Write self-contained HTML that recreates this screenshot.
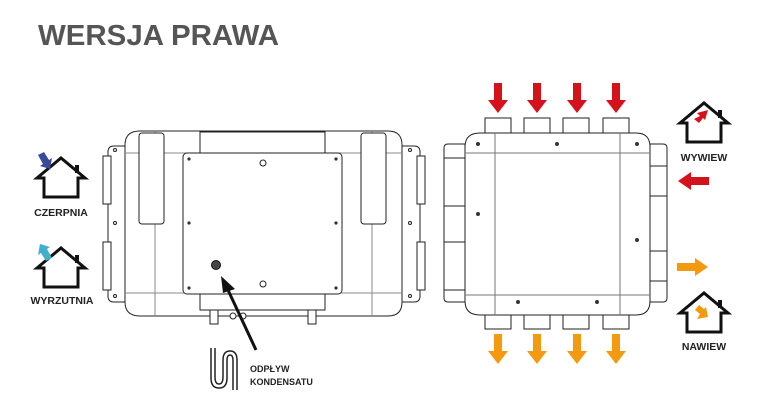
<!DOCTYPE html>
<html><head><meta charset="utf-8"><style>
html,body{margin:0;padding:0;background:#fff;}
svg{display:block;font-family:"Liberation Sans",sans-serif;}
</style></head><body>
<svg width="766" height="411" viewBox="0 0 766 411" xmlns="http://www.w3.org/2000/svg">
<defs>
<g id="house"><path d="M2,21 L26,1 L50,21 L43,21 L43,40 L9,40 L9,21 Z" fill="none" stroke="#111" stroke-width="3" stroke-linejoin="miter"/><rect x="40" y="8" width="4" height="8" fill="#111"/></g>
<g id="adown"><rect x="-4" y="0" width="8" height="18" /><path d="M-10,17 L10,17 L0,30 Z"/></g>
</defs>
<text x="38" y="45" font-size="29" font-weight="bold" fill="#555" textLength="241" lengthAdjust="spacingAndGlyphs">WERSJA PRAWA</text>

<!-- LEFT UNIT -->
<g fill="#fff" stroke="#222" stroke-width="1">
<path d="M108,152 q0,-6 6,-6 h11 v156 h-11 q-6,0 -6,-6 Z"/>
<path d="M420,152 q0,-6 -6,-6 h-12 v156 h12 q6,0 6,-6 Z"/>
<rect x="103" y="156" width="8" height="48"/><rect x="103" y="242" width="8" height="48"/>
<rect x="417" y="156" width="8" height="48"/><rect x="417" y="242" width="8" height="48"/>
<path d="M140,131 H388 Q402,131 402,145 V302 Q402,316 388,316 H140 Q125,316 125,302 V145 Q125,131 140,131 Z"/>
<line x1="125" y1="153" x2="402" y2="153" stroke="#888"/>
<line x1="125" y1="293" x2="402" y2="293" stroke="#888"/>
<line x1="155" y1="131" x2="155" y2="316" stroke="#888"/>
<line x1="372" y1="131" x2="372" y2="316" stroke="#888"/>
<rect x="200" y="132" width="125" height="21"/>
<rect x="200" y="293" width="125" height="17"/>
<rect x="139" y="133" width="25" height="91" rx="3"/>
<rect x="361" y="133" width="25" height="91" rx="3"/>
<rect x="183" y="153" width="159" height="141" rx="4"/>
<rect x="210" y="310" width="8" height="14"/><rect x="308" y="310" width="8" height="14"/>
<circle cx="233" cy="316" r="3"/><circle cx="243" cy="316" r="3"/>
<circle cx="263" cy="163" r="3"/><circle cx="263" cy="284" r="3"/>
<circle cx="115" cy="150" r="1.5"/><circle cx="115" cy="223" r="1.5"/><circle cx="115" cy="296" r="1.5"/>
<circle cx="410" cy="150" r="1.5"/><circle cx="410" cy="223" r="1.5"/><circle cx="410" cy="296" r="1.5"/>
</g>
<g fill="#333"><circle cx="189" cy="159" r="1.6"/><circle cx="336" cy="159" r="1.6"/><circle cx="189" cy="223" r="1.6"/><circle cx="336" cy="223" r="1.6"/><circle cx="189" cy="288" r="1.6"/><circle cx="336" cy="288" r="1.6"/></g>
<circle cx="216" cy="265" r="4.5" fill="#444" stroke="#111"/>
<line x1="256" y1="350" x2="228" y2="290" stroke="#111" stroke-width="3"/>
<path d="M221,276 L235,289 L223,293 Z" fill="#111"/>

<!-- houses left -->
<use href="#house" x="35" y="157"/>
<path d="M38,155 L44,152 L49,160 L52,158 L50,169 L40,166 L43,164 Z" fill="#3a4a9a"/>
<text x="61" y="216" font-size="10.5" font-weight="bold" fill="#222" text-anchor="middle">CZERPNIA</text>
<use href="#house" x="35" y="247"/>
<path d="M52,258 L46,261 L41,253 L38,255 L40,244 L50,247 L47,249 Z" fill="#3fb0cc"/>
<text x="62" y="304" font-size="10.5" font-weight="bold" fill="#222" text-anchor="middle">WYRZUTNIA</text>

<!-- drain icon -->
<g fill="none" stroke="#222" stroke-width="1.5">
<path d="M211,348 V378 Q211,388 219,388 Q227,388 227,378 V360 Q227,355 230,355 Q233,355 233,360 V390"/>
<path d="M215,348 V377 Q215,384 219,384 Q223,384 223,377 V360 Q223,351 230,351 Q237,351 237,360 V390"/>
</g>
<text x="250" y="372" font-size="9" font-weight="bold" fill="#222">ODPŁYW</text>
<text x="250" y="385" font-size="9" font-weight="bold" fill="#222">KONDENSATU</text>

<!-- RIGHT UNIT -->
<g fill="#fff" stroke="#222" stroke-width="1">
<path d="M444,148 q0,-4 4,-4 h17 v158 h-17 q-4,0 -4,-4 Z"/>
<path d="M667,148 q0,-4 -4,-4 h-13 v158 h13 q4,0 4,-4 Z"/>
<rect x="444" y="158" width="21" height="48"/><rect x="444" y="242" width="21" height="48"/>
<rect x="650" y="166" width="17" height="30"/><rect x="650" y="251" width="17" height="30"/>
<rect x="485" y="118" width="26" height="15"/><rect x="524" y="118" width="26" height="15"/><rect x="563" y="118" width="26" height="15"/><rect x="603" y="118" width="26" height="15"/>
<rect x="485" y="315" width="26" height="14"/><rect x="524" y="315" width="26" height="14"/><rect x="563" y="315" width="26" height="14"/><rect x="603" y="315" width="26" height="14"/>
<path d="M480,133 H636 Q650,133 650,147 V301 Q650,315 636,315 H480 Q465,315 465,301 V147 Q465,133 480,133 Z"/>
<line x1="465" y1="153" x2="650" y2="153" stroke="#777"/>
<line x1="465" y1="295" x2="650" y2="295" stroke="#777"/>
<line x1="495" y1="133" x2="495" y2="315" stroke="#777"/>
<line x1="620" y1="133" x2="620" y2="315" stroke="#777"/>
</g>
<g fill="#333"><circle cx="478" cy="144" r="2"/><circle cx="557" cy="144" r="2"/><circle cx="637" cy="144" r="2"/><circle cx="478" cy="214" r="2"/><circle cx="637" cy="240" r="2"/><circle cx="518" cy="302" r="2"/><circle cx="597" cy="302" r="2"/></g>

<g fill="#d5121b">
<use href="#adown" x="498" y="83"/><use href="#adown" x="537" y="83"/><use href="#adown" x="577" y="83"/><use href="#adown" x="616" y="83"/>
<path d="M678,181 L691,172 V177 H709 V185 H691 V190 Z"/>
</g>
<g fill="#f39a11">
<use href="#adown" x="498" y="334"/><use href="#adown" x="537" y="334"/><use href="#adown" x="577" y="334"/><use href="#adown" x="616" y="334"/>
<path d="M708,267 L695,258 V263 H677 V271 H695 V276 Z"/>
</g>

<use href="#house" x="678" y="102"/>
<path d="M697,113 L708,110 L705,120 L703,118 L699,123 L694,119 L700,116 Z" fill="#d5121b"/>
<text x="704" y="161" font-size="10.5" font-weight="bold" fill="#222" text-anchor="middle">WYWIEW</text>
<use href="#house" x="678" y="292"/>
<path d="M708,317 L697,319 L700,314 L695,310 L699,305 L704,309 L706,307 Z" fill="#f39a11"/>
<text x="704" y="350" font-size="10.5" font-weight="bold" fill="#222" text-anchor="middle">NAWIEW</text>
</svg>
</body></html>
